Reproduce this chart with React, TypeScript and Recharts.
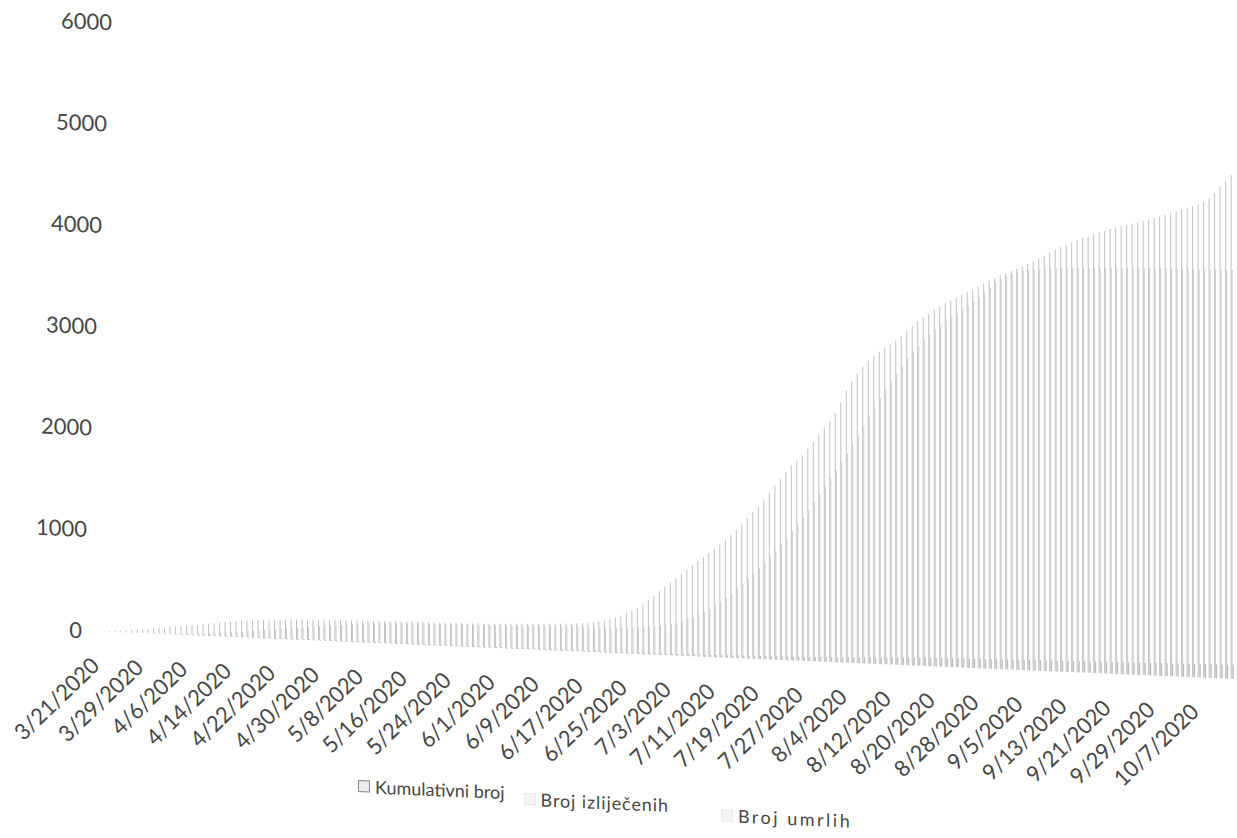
import React from "react";
import { BarChart, Bar, XAxis, YAxis, Legend } from "recharts";

// dnevni podaci od 3/21/2020
const startDate = "2020-03-21";

const kumulativni = [
  3, 5, 8, 12, 16, 20, 25, 30, 36, 42,
  50, 58, 64, 70, 78, 86, 92, 98, 105, 112,
  120, 128, 136, 142, 150, 156, 162, 168, 172, 176,
  180, 184, 188, 191, 194, 197, 199, 201, 203, 205,
  207, 208, 209, 210, 211, 212, 213, 214, 215, 216,
  217, 218, 219, 220, 220, 221, 222, 223, 224, 224,
  225, 226, 227, 228, 229, 230, 231, 232, 233, 234,
  235, 236, 238, 240, 242, 244, 246, 248, 250, 252,
  254, 257, 260, 263, 266, 269, 272, 276, 280, 286,
  294, 304, 316, 330, 348, 368, 392, 420, 452, 490,
  532, 578, 626, 674, 718, 762, 808, 852, 896, 940,
  982, 1024, 1068, 1112, 1160, 1210, 1262, 1320, 1380, 1440,
  1500, 1570, 1640, 1710, 1780, 1850, 1920, 1970, 2020, 2090,
  2160, 2230, 2300, 2370, 2450, 2560, 2680, 2770, 2850, 2920,
  2980, 3030, 3075, 3115, 3150, 3190, 3240, 3290, 3340, 3390,
  3430, 3470, 3510, 3545, 3580, 3610, 3640, 3670, 3700, 3730,
  3760, 3790, 3820, 3850, 3875, 3900, 3925, 3950, 3975, 4000,
  4030, 4060, 4090, 4120, 4150, 4180, 4205, 4230, 4255, 4280,
  4300, 4320, 4340, 4360, 4380, 4395, 4410, 4425, 4440, 4455,
  4470, 4485, 4500, 4520, 4540, 4560, 4580, 4600, 4620, 4640,
  4660, 4690, 4720, 4780, 4840, 4900, 4960,
];

const izlijeceni = [
  0, 0, 0, 0, 0, 0, 1, 1, 2, 2,
  3, 4, 5, 6, 8, 10, 12, 15, 18, 22,
  26, 30, 35, 40, 46, 52, 58, 64, 70, 76,
  82, 88, 94, 100, 106, 112, 118, 124, 130, 136,
  142, 148, 154, 160, 165, 170, 175, 180, 184, 188,
  192, 195, 198, 200, 202, 204, 206, 208, 209, 210,
  211, 212, 213, 214, 215, 216, 217, 218, 219, 220,
  221, 222, 223, 224, 225, 226, 227, 228, 229, 230,
  231, 232, 233, 234, 235, 236, 237, 238, 239, 240,
  242, 244, 246, 248, 250, 253, 256, 260, 264, 268,
  274, 280, 288, 298, 310, 324, 340, 360, 384, 410,
  440, 472, 508, 548, 590, 636, 684, 734, 786, 840,
  896, 954, 1014, 1076, 1140, 1206, 1274, 1344, 1416, 1490,
  1566, 1644, 1724, 1806, 1890, 1976, 2064, 2154, 2246, 2340,
  2436, 2530, 2620, 2706, 2790, 2870, 2946, 3018, 3086, 3150,
  3210, 3266, 3318, 3366, 3410, 3450, 3490, 3530, 3570, 3610,
  3650, 3700, 3750, 3800, 3840, 3870, 3895, 3915, 3930, 3940,
  3948, 3955, 3960, 3965, 3970, 3974, 3978, 3982, 3985, 3988,
  3990, 3992, 3994, 3996, 3998, 4000, 4002, 4004, 4006, 4008,
  4010, 4012, 4013, 4014, 4015, 4016, 4017, 4018, 4019, 4020,
  4021, 4022, 4023, 4024, 4025, 4026, 4027,
];

const umrli = [
  0, 0, 0, 0, 0, 0, 1, 1, 1, 1,
  1, 2, 2, 2, 3, 3, 3, 4, 4, 4,
  5, 5, 5, 6, 6, 6, 6, 7, 7, 7,
  7, 7, 8, 8, 8, 8, 8, 8, 8, 8,
  8, 8, 8, 8, 8, 8, 8, 8, 9, 9,
  9, 9, 9, 9, 9, 9, 9, 9, 9, 9,
  9, 9, 9, 9, 9, 9, 9, 9, 9, 9,
  9, 9, 9, 9, 9, 9, 10, 10, 10, 10,
  10, 10, 10, 10, 10, 10, 10, 10, 10, 10,
  10, 10, 10, 11, 11, 11, 11, 12, 12, 12,
  13, 13, 14, 14, 15, 16, 17, 18, 19, 20,
  21, 22, 23, 24, 25, 26, 27, 28, 29, 30,
  31, 32, 33, 34, 35, 36, 37, 38, 39, 40,
  42, 44, 46, 48, 50, 52, 54, 56, 58, 60,
  62, 64, 66, 68, 70, 72, 74, 76, 78, 80,
  82, 83, 84, 85, 86, 87, 88, 89, 90, 91,
  92, 93, 94, 95, 96, 97, 98, 99, 100, 101,
  102, 103, 104, 105, 106, 107, 108, 109, 110, 111,
  112, 113, 114, 115, 116, 117, 118, 119, 120, 121,
  122, 123, 124, 125, 126, 127, 128, 129, 130, 131,
  132, 133, 134, 135, 136, 137, 138,
];

const yTicks = [0, 1000, 2000, 3000, 4000, 5000, 6000];

const seriesKeys = ["kumulativni", "izlijeceni", "umrli"];
const seriesNames = ["Kumulativni broj", "Broj izliječenih", "Broj umrlih"];

// izgled serija i legende (sken je blijed i malo nakrivljen)
const barColors = ["#c0c0c0", "#cacaca", "#b0b0b0"];
const iconStyles = [
  { background: "#ececec", border: "1px solid #8a8a8a" },
  { background: "#f4f4f4", border: "1px solid #e8e8e8" },
  { background: "#f4f4f4", border: "1px solid #ececec" },
];
const legendGaps = [358, 19, 52];
const legendDrop = [0, 6, 14];
const legendSpacing = [0, 0.9, 2.5];

const datumi = kumulativni.map((_, i) => {
  const d = new Date(startDate + "T00:00:00Z");
  d.setUTCDate(d.getUTCDate() + i);
  return `${d.getUTCMonth() + 1}/${d.getUTCDate()}/${d.getUTCFullYear()}`;
});

const data = datumi.map((datum, i) => ({
  datum,
  kumulativni: kumulativni[i],
  izlijeceni: izlijeceni[i],
  umrli: umrli[i],
}));

const FONT = "Lato, 'Open Sans', sans-serif";
const TEXT = "#474747";

function Legenda() {
  return (
    <div
      style={{
        display: "flex",
        alignItems: "flex-start",
        marginTop: -6,
        fontFamily: FONT,
        fontSize: 18,
        color: TEXT,
      }}
    >
      {seriesNames.map((name, i) => (
        <div
          key={name}
          style={{
            display: "flex",
            alignItems: "center",
            marginLeft: legendGaps[i],
            marginTop: legendDrop[i],
            letterSpacing: legendSpacing[i],
          }}
        >
          <span
            style={{
              display: "inline-block",
              width: 10,
              height: 10,
              marginRight: 5,
              ...iconStyles[i],
            }}
          />
          {name}
        </div>
      ))}
    </div>
  );
}

function DatumTick(props: any) {
  const { x, y, payload } = props;
  const tx = x - 10;
  const ty = y + 5;
  return (
    <text
      x={tx}
      y={ty}
      textAnchor="end"
      transform={`rotate(-45, ${tx}, ${ty})`}
      fontSize={22}
      fill={TEXT}
      fontFamily={FONT}
    >
      <tspan x={tx} dy="0.71em">
        {payload.value}
      </tspan>
    </text>
  );
}

// oznake osi y na skenu lagano se pomiču udesno prema vrhu
function VrijednostTick(props: any) {
  const { x, y, payload } = props;
  const tx = x - 2 + (payload.value / 1000) * 5;
  return (
    <text
      x={tx}
      y={y}
      dy="0.35em"
      textAnchor="end"
      fontSize={22}
      fill={TEXT}
      fontFamily={FONT}
    >
      {payload.value}
    </text>
  );
}

export default function App() {
  return (
    <div
      style={{
        position: "absolute",
        left: 0,
        top: 0,
        width: 1237,
        height: 838,
        background: "#fff",
        transform: "skewY(2.4deg)",
        transformOrigin: "97px 633px",
      }}
    >
      <BarChart
        width={1237}
        height={838}
        data={data}
        margin={{ top: 22, right: 2, bottom: 38, left: 0 }}
        barCategoryGap="20%"
        barGap={0}
        style={{ fontFamily: FONT }}
      >
        <YAxis
          width={97}
          domain={[0, 6000]}
          ticks={yTicks}
          axisLine={false}
          tickLine={false}
          tickSize={0}
          tickMargin={13}
          tick={<VrijednostTick />}
        />
        <XAxis
          dataKey="datum"
          interval={7}
          height={87}
          axisLine={false}
          tickLine={false}
          tickSize={0}
          tickMargin={20}
          tick={<DatumTick />}
        />
        <Legend verticalAlign="bottom" height={30} content={<Legenda />} />
        {seriesKeys.map((key, i) => (
          <Bar
            key={key}
            dataKey={key}
            name={seriesNames[i]}
            fill={barColors[i]}
            isAnimationActive={false}
          />
        ))}
      </BarChart>
    </div>
  );
}
